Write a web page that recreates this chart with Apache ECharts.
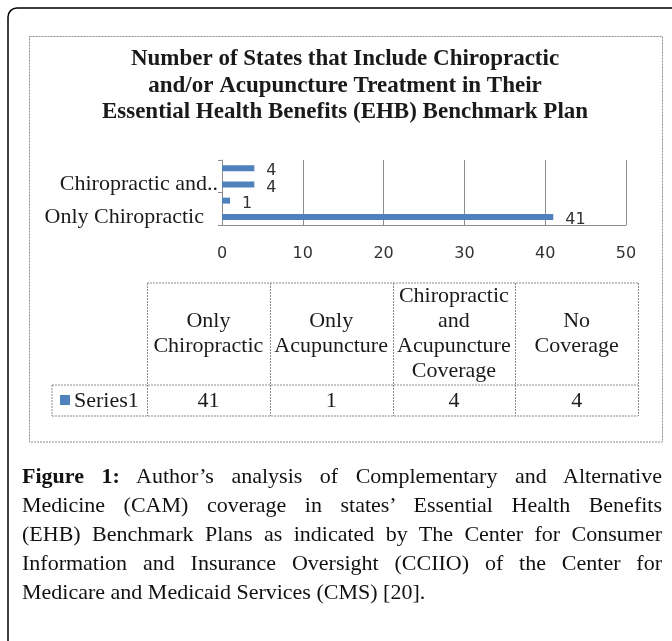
<!DOCTYPE html>
<html>
<head>
<meta charset="utf-8">
<script src="https://cdn.jsdelivr.net/npm/echarts@6/dist/echarts.min.js"></script>
<style>
  html, body { margin: 0; padding: 0; background: #fff; }
  #wrap { position: relative; width: 672px; height: 641px; overflow: hidden; }
  #chart { position: absolute; left: 0; top: 0; width: 672px; height: 641px; }
  #caption {
    position: absolute; left: 22px; top: 461px; width: 640px;
    font-family: 'Liberation Serif', serif; font-size: 22px; line-height: 29px; color: #111;
  }
  #caption div { text-align: justify; text-align-last: justify; white-space: nowrap; }
  #caption div.last { text-align-last: left; }
</style>
</head>
<body>
<div id="wrap">
  <div id="chart"></div>
  <div id="caption">
    <div><b>Figure 1:</b> Author’s analysis of Complementary and Alternative</div>
    <div>Medicine (CAM) coverage in states’ Essential Health Benefits</div>
    <div>(EHB) Benchmark Plans as indicated by The Center for Consumer</div>
    <div>Information and Insurance Oversight (CCIIO) of the Center for</div>
    <div class="last">Medicare and Medicaid Services (CMS) [20].</div>
  </div>
</div>
<script>
// data
var categories = ['Only Chiropractic', 'Only Acupuncture', 'Chiropractic and Acupuncture Coverage', 'No Coverage'];
var values = [41, 1, 4, 4];
var seriesName = 'Series1';
// header cells of the data table, wrapped as in the picture
var headerLines = [['Only', 'Chiropractic'], ['Only', 'Acupuncture'], ['Chiropractic', 'and', 'Acupuncture', 'Coverage'], ['No', 'Coverage']];
var titleLines = ['Number of States that Include Chiropractic', 'and/or Acupuncture Treatment in Their', 'Essential Health Benefits (EHB) Benchmark Plan'];

var blue = '#4F81BD';
var gray = '#8c8c8c';
var serif = 'Liberation Serif';

var myChart = echarts.init(document.getElementById('chart'));

// data table under the chart
var tbl = { left: 52, first: 147, right: 638, top: 283, mid: 385, bottom: 416 };
var colW = (tbl.right - tbl.first) / categories.length;
var tableEls = [];
function line(x1, y1, x2, y2) {
    tableEls.push({
        type: 'line', silent: true,
        shape: { x1: x1, y1: y1, x2: x2, y2: y2 },
        style: { stroke: gray, lineWidth: 1, lineDash: [2, 1] }
    });
}
line(tbl.first, tbl.top, tbl.right, tbl.top);
line(tbl.left, tbl.mid, tbl.right, tbl.mid);
line(tbl.left, tbl.bottom, tbl.right, tbl.bottom);
line(tbl.left, tbl.mid, tbl.left, tbl.bottom);
for (var i = 0; i <= categories.length; i++) {
    var x = Math.round(tbl.first + i * colW) + 0.5;
    line(x, tbl.top, x, tbl.bottom);
}
for (var i = 0; i < categories.length; i++) {
    var cx = tbl.first + (i + 0.5) * colW;
    tableEls.push({
        type: 'text', silent: true,
        style: {
            text: headerLines[i].join('\n'), x: cx, y: (tbl.top + tbl.mid) / 2,
            align: 'center', verticalAlign: 'middle', lineHeight: 25,
            font: '22px ' + serif, fill: '#1a1a1a'
        }
    });
    tableEls.push({
        type: 'text', silent: true,
        style: {
            text: String(values[i]), x: cx, y: (tbl.mid + tbl.bottom) / 2 + 1,
            align: 'center', verticalAlign: 'middle',
            font: '22px ' + serif, fill: '#1a1a1a'
        }
    });
}
tableEls.push({
    type: 'rect', silent: true,
    shape: { x: 60, y: 395, width: 10, height: 10 },
    style: { fill: blue }
});
tableEls.push({
    type: 'text', silent: true,
    style: {
        text: seriesName, x: 74, y: (tbl.mid + tbl.bottom) / 2 + 1,
        align: 'left', verticalAlign: 'middle',
        font: '22px ' + serif, fill: '#1a1a1a'
    }
});

var option = {
    backgroundColor: '#fff',
    animation: false,
    graphic: [
        {
            type: 'rect', silent: true,
            shape: { x: 8, y: 8, width: 900, height: 900, r: 9 },
            style: { fill: 'none', stroke: '#000', lineWidth: 1.5 }
        },
        {
            type: 'rect', silent: true,
            shape: { x: 29.5, y: 36.5, width: 633, height: 405.5 },
            style: { fill: 'none', stroke: gray, lineWidth: 1, lineDash: [2, 1] }
        },
        {
            type: 'text', silent: true,
            style: {
                text: titleLines.join('\n'), x: 345, y: 46,
                align: 'center', verticalAlign: 'top', lineHeight: 26.5,
                font: 'bold 23px ' + serif, fill: '#1a1a1a'
            }
        }
    ].concat(tableEls),
    grid: {
        left: 222, right: 46, top: 160, height: 65
    },
    xAxis: {
        type: 'value',
        min: 0, max: 50, interval: 10,
        axisLine: { show: true, lineStyle: { color: gray } },
        axisTick: { show: false },
        splitLine: { show: true, lineStyle: { color: gray } },
        axisLabel: { margin: 21, fontFamily: 'DejaVu Sans', fontSize: 16, color: '#333' }
    },
    yAxis: {
        type: 'category',
        data: categories,
        axisLine: { show: true, lineStyle: { color: gray } },
        axisTick: { show: true, interval: 1, length: 4, lineStyle: { color: gray } },
        axisLabel: {
            interval: 1, margin: 4,
            fontFamily: serif, fontSize: 22, color: '#1a1a1a',
            formatter: function (v) {
                if (v.length > 20) return v.split(' ').slice(0, 2).join(' ') + '..';
                return '{pad|' + v + '}';
            },
            rich: { pad: { fontFamily: serif, fontSize: 22, color: '#1a1a1a', padding: [0, 14, 0, 0] } }
        }
    },
    series: [{
        name: seriesName,
        type: 'bar',
        data: values,
        barWidth: 6,
        itemStyle: { color: blue },
        label: {
            show: true, position: 'right', distance: 12, offset: [0, 3],
            fontFamily: 'DejaVu Sans', fontSize: 16, color: '#333'
        }
    }]
};
myChart.setOption(option);
</script>
</body>
</html>
